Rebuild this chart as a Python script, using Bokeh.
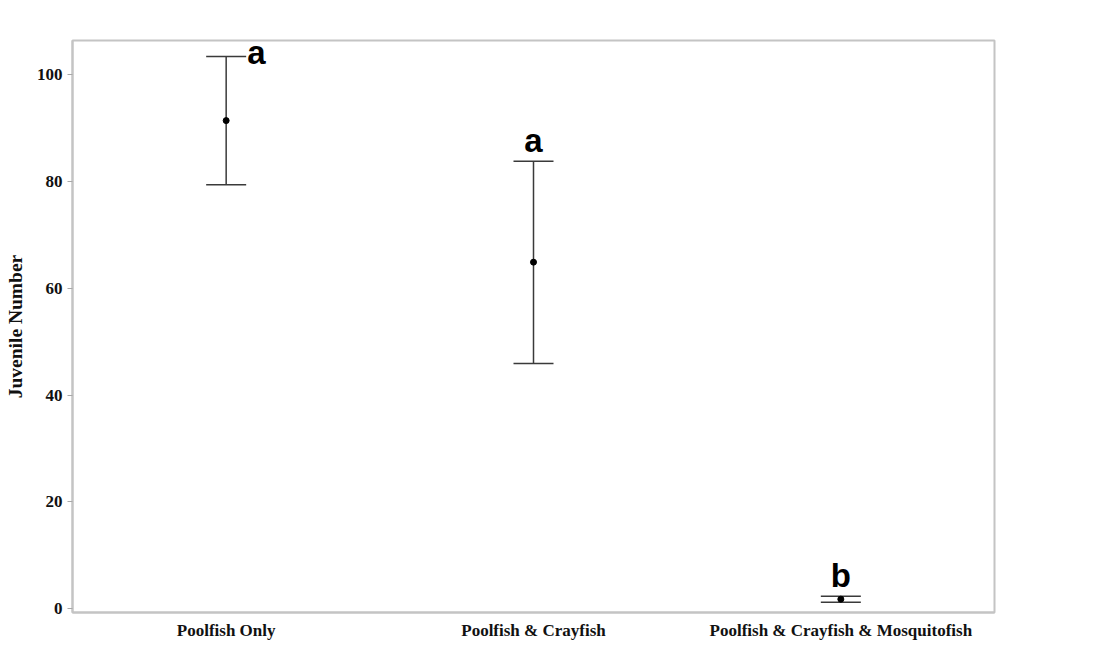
from bokeh.plotting import figure
from bokeh.models import ColumnDataSource, Range1d, FactorRange, Whisker, TeeHead
from bokeh.core.properties import value
from bokeh.embed import file_html
from bokeh.resources import INLINE

# ---- data ----
categories = ["Poolfish Only", "Poolfish & Crayfish", "Poolfish & Crayfish & Mosquitofish"]
means = [91.4, 64.9, 1.8]
upper = [103.4, 83.8, 2.36]
lower = [79.4, 45.9, 1.24]
letters = ["a", "a", "b"]
y_ticks = [0, 20, 40, 60, 80, 100]

src = ColumnDataSource(dict(cat=categories, mean=means, upper=upper, lower=lower, letter=letters))

p = figure(
    width=1090, height=645,
    x_range=FactorRange(*categories, range_padding=0),
    y_range=Range1d(-0.7, 106.4),
    output_backend="svg", toolbar_location=None,
    min_border_left=72, min_border_top=40, min_border_right=96, min_border_bottom=33,
)
p.background_fill_color = "white"
p.border_fill_color = "white"
p.outline_line_color = "#c4c4c4"
p.outline_line_width = 2
p.xgrid.grid_line_color = None
p.ygrid.grid_line_color = None

# error bars
err_color = "#3a3a3a"
w = Whisker(
    base="cat", upper="upper", lower="lower", source=src,
    line_color=err_color, line_width=1.5,
    upper_head=TeeHead(size=40, line_color=err_color, line_width=1.5),
    lower_head=TeeHead(size=40, line_color=err_color, line_width=1.5),
)
p.add_layout(w)

# means
p.scatter(x="cat", y="mean", source=src, size=6, color="black")

# significance letters
font = value("Liberation Sans")
lsrc1 = ColumnDataSource(dict(cat=categories[:1], y=upper[:1], t=letters[:1]))
lsrc2 = ColumnDataSource(dict(cat=categories[1:], y=upper[1:], t=letters[1:]))
p.text(x="cat", y="y", text="t", source=lsrc1, text_font=font, text_font_style="bold",
       text_font_size="33px", text_align="left", text_baseline="alphabetic",
       x_offset=21, y_offset=-4, text_color="black")
p.text(x="cat", y="y", text="t", source=lsrc2, text_font=font, text_font_style="bold",
       text_font_size="33px", text_align="center", text_baseline="alphabetic",
       x_offset=0, y_offset=-21, text_color="black")

# axes
serif = "Liberation Serif"
ax_grey = "#a8a8a8"
p.yaxis.ticker = y_ticks
p.yaxis.axis_label = "Juvenile Number"
p.yaxis.axis_label_text_font = serif
p.yaxis.axis_label_text_font_style = "bold"
p.yaxis.axis_label_text_font_size = "19.5px"
p.yaxis.axis_label_text_color = "#111111"
p.yaxis.axis_label_standoff = 8
p.yaxis.major_label_text_font = serif
p.yaxis.major_label_text_font_style = "bold"
p.yaxis.major_label_text_font_size = "17px"
p.yaxis.major_label_text_color = "#111111"
p.yaxis.major_label_standoff = 5
p.yaxis.major_tick_in = 0
p.yaxis.major_tick_out = 5
p.yaxis.minor_tick_line_color = None
p.yaxis.major_tick_line_color = ax_grey
p.yaxis.axis_line_color = "#c4c4c4"
p.yaxis.axis_line_width = 2

p.xaxis.major_label_text_font = serif
p.xaxis.major_label_text_font_style = "bold"
p.xaxis.major_label_text_font_size = "17px"
p.xaxis.major_label_text_color = "#111111"
p.xaxis.major_label_standoff = 2
p.xaxis.major_tick_line_color = None
p.xaxis.minor_tick_line_color = None
p.xaxis.axis_line_color = "#c4c4c4"
p.xaxis.axis_line_width = 2

open("out.html", "w").write(file_html(p, INLINE))
